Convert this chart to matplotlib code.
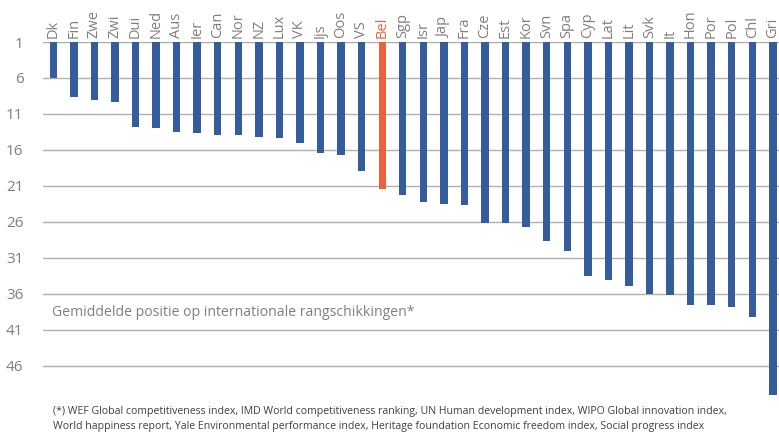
import numpy as np
import matplotlib
matplotlib.use("Agg")
import matplotlib.pyplot as plt

landen = ['Dk', 'Fin', 'Zwe', 'Zwi', 'Dui', 'Ned', 'Aus', 'Ier', 'Can', 'Nor', 'NZ', 'Lux',
          'VK', 'Ijs', 'Oos', 'VS', 'Bel', 'Sgp', 'Isr', 'Jap', 'Fra', 'Cze', 'Est', 'Kor',
          'Svn', 'Spa', 'Cyp', 'Lat', 'Lit', 'Svk', 'It', 'Hon', 'Por', 'Pol', 'Chl', 'Gri']
positie = [6.0, 8.6, 9.0, 9.4, 12.8, 12.9, 13.45, 13.6, 13.9, 13.9, 14.15, 14.3,
           15.1, 16.4, 16.65, 18.9, 21.4, 22.3, 23.2, 23.45, 23.7, 26.1, 26.2, 26.65,
           28.6, 30.1, 33.5, 34.0, 34.85, 35.95, 36.2, 37.5, 37.6, 37.75, 39.15, 50.0]
y_ticks = [1, 6, 11, 16, 21, 26, 31, 36, 41, 46]
highlight = 'Bel'

blauw = '#355C9C'
oranje = '#EE5F3C'
grijs = '#7F7F7F'

plt.rcParams['font.family'] = ['Open Sans', 'DejaVu Sans']

fig = plt.figure(figsize=(7.79, 4.34), dpi=100)
ax = fig.add_axes([0.0552, 0.0906, 0.9448, 0.8126])

x = np.arange(len(landen))
kleuren = [oranje if l == highlight else blauw for l in landen]
# bars hang from rank 1 down to the average position
ax.bar(x, np.array(positie) - 1, bottom=1, width=0.36, color=kleuren, zorder=3)

ax.set_ylim(50, 1)
ax.set_xlim(-0.5, len(landen) - 0.7)
ax.set_yticks(y_ticks)
ax.set_yticklabels([str(t) for t in y_ticks], color=grijs, fontsize=11)
ax.yaxis.grid(True, color='#B0B0B0', linewidth=1.0, zorder=0)
ax.tick_params(axis='y', length=0, pad=14)

ax.xaxis.tick_top()
ax.set_xticks(x)
ax.set_xticklabels(landen, rotation=90, fontsize=10.5, color=grijs)
ax.tick_params(axis='x', length=0, pad=3)
for lab in ax.get_xticklabels():
    if lab.get_text() == highlight:
        lab.set_color(oranje)

for s in ['left', 'right', 'bottom']:
    ax.spines[s].set_visible(False)
ax.spines['top'].set_color('#B0B0B0')

ax.text(-0.05, 38.6, 'Gemiddelde positie op internationale rangschikkingen*',
        color=grijs, fontsize=10.1, va='center', ha='left')

fig.text(0.068, 0.064,
         '(*) WEF Global competitiveness index, IMD World competitiveness ranking, UN Human development index, WIPO Global innovation index,\n'
         'World happiness report, Yale Environmental performance index, Heritage foundation Economic freedom index, Social progress index',
         fontsize=7.6, color='#404040', va='top', ha='left', linespacing=1.5)

plt.savefig('out.png', dpi=100)
